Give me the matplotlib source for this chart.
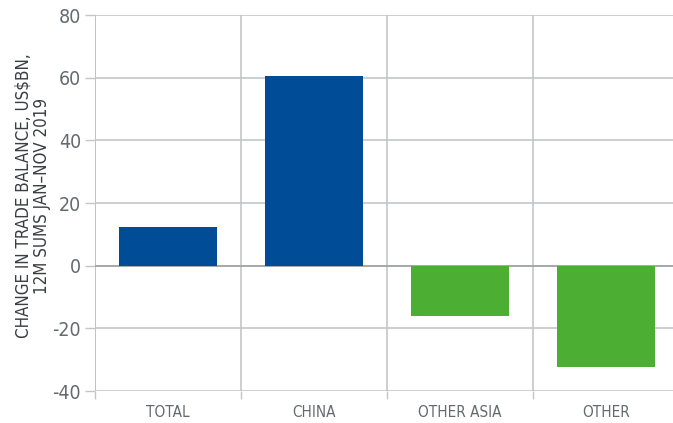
import matplotlib.pyplot as plt
import numpy as np

categories = ["TOTAL", "CHINA", "OTHER ASIA", "OTHER"]
values = [12.3, 60.5, -16.1, -32.3]
colors = ["#004C97", "#004C97", "#4CAF33", "#4CAF33"]
y_ticks = [-40, -20, 0, 20, 40, 60, 80]

plt.rcParams['font.family'] = ['DejaVu Sans']
plt.rcParams['font.stretch'] = 'condensed'
grid_col = "#c3c6c8"
text_col = "#646a6e"

fig = plt.figure(figsize=(6.73, 4.23), dpi=100)
ax = fig.add_axes([95 / 673, 32 / 423, 584 / 673, 376 / 423])

x = np.arange(len(categories))
ax.bar(x, values, width=0.67, color=colors, zorder=3)

ax.set_xlim(-0.5, len(categories) - 0.5)
ax.set_ylim(-40, 80)
ax.set_yticks(y_ticks)
ax.set_yticklabels([str(v) for v in y_ticks])
ax.set_xticks(x)
ax.set_xticklabels(categories)
ax.set_xticks(np.arange(len(categories) + 1) - 0.5, minor=True)

ax.grid(axis='y', color=grid_col, linewidth=1.2, zorder=0)
ax.grid(axis='x', which='minor', color=grid_col, linewidth=1.2, zorder=0)
ax.axhline(0, color="#9ea3a6", linewidth=1.2, zorder=2)

for s in ax.spines.values():
    s.set_visible(False)
ax.axvline(-0.5, color="#b0b4b7", linewidth=1.2, zorder=1)

ax.tick_params(axis='y', length=7, width=1.0, color=grid_col, labelsize=14,
               labelcolor=text_col, pad=3)
ax.tick_params(axis='x', which='major', length=0, labelsize=11,
               labelcolor=text_col, pad=10)
ax.tick_params(axis='x', which='minor', length=6, width=1.0, color=grid_col)

ax.set_ylabel("CHANGE IN TRADE BALANCE, US$BN,\n12M SUMS JAN\u2013NOV 2019",
              fontsize=12.2, color="#3a3e41", linespacing=1.05)
ax.yaxis.set_label_coords(-0.075, 0.52)

fig.savefig("out.png", dpi=100)
